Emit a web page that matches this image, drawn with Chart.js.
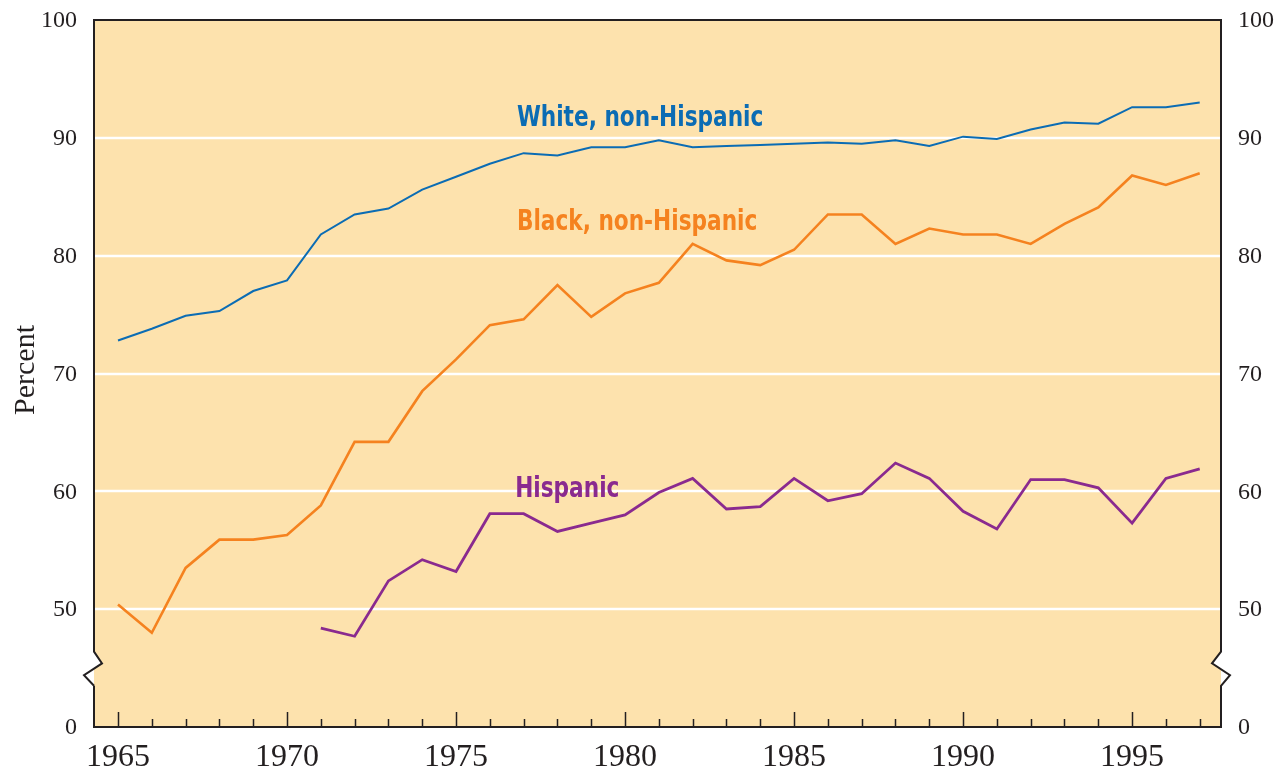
<!DOCTYPE html>
<html>
<head>
<meta charset="utf-8">
<title>Percent by group, 1965-1997</title>
<script src="https://cdn.jsdelivr.net/npm/chart.js@4"></script>
<style>
    body { margin: 0; background: #ffffff; }
    #wrap { width: 1276px; height: 774px; }
</style>
</head>
<body>
<div id="wrap"><canvas id="percentChart" width="1276" height="774"></canvas></div>
<script>
// Data
const years = [1965, 1966, 1967, 1968, 1969, 1970, 1971, 1972, 1973, 1974, 1975,
    1976, 1977, 1978, 1979, 1980, 1981, 1982, 1983, 1984, 1985, 1986,
    1987, 1988, 1989, 1990, 1991, 1992, 1993, 1994, 1995, 1996, 1997];

const whiteNonHispanic = [72.8, 73.8, 74.9, 75.3, 77.0, 77.9, 81.8, 83.5, 84.0, 85.6, 86.7,
    87.8, 88.7, 88.5, 89.2, 89.2, 89.8, 89.2, 89.3, 89.4, 89.5, 89.6,
    89.5, 89.8, 89.3, 90.1, 89.9, 90.7, 91.3, 91.2, 92.6, 92.6, 93.0];

const blackNonHispanic = [50.4, 48.0, 53.5, 55.9, 55.9, 56.3, 58.8, 64.2, 64.2, 68.5, 71.2,
    74.1, 74.6, 77.5, 74.8, 76.8, 77.7, 81.0, 79.6, 79.2, 80.5, 83.5,
    83.5, 81.0, 82.3, 81.8, 81.8, 81.0, 82.7, 84.1, 86.8, 86.0, 87.0];

const hispanic = [null, null, null, null, null, null, 48.4, 47.7, 52.4, 54.2, 53.2,
    58.1, 58.1, 56.6, 57.3, 58.0, 59.9, 61.1, 58.5, 58.7, 61.1, 59.2,
    59.8, 62.4, 61.1, 58.3, 56.8, 61.0, 61.0, 60.3, 57.3, 61.1, 61.9];

// y axis is broken: the bottom of the scale (40) is labelled "0"
const yTicks = [40, 50, 60, 70, 80, 90, 100];
const yTickLabels = ["0", "50", "60", "70", "80", "90", "100"];
const xLabelYears = [1965, 1970, 1975, 1980, 1985, 1990, 1995];

const seriesLabels = [
    { text: "White, non-Hispanic", x: 1976.8, y: 91.0, color: "#0b6cb4" },
    { text: "Black, non-Hispanic", x: 1976.8, y: 82.2, color: "#f5821f" },
    { text: "Hispanic", x: 1976.75, y: 59.5, color: "#8a2a8f" }
];

const serif = "'Liberation Serif', 'Times New Roman', serif";
const narrowBold = "bold 29px 'Liberation Sans Narrow', 'DejaVu Sans Condensed', 'Arial Narrow', sans-serif";

function toPoints(values) {
    return years.map((yr, i) => ({ x: yr, y: values[i] }));
}

// Background, gridlines, frame, ticks, labels drawn from the chart's scales
const framePlugin = {
    id: "frame",
    beforeDatasetsDraw(chart) {
        const { ctx, chartArea: a, scales: { y } } = chart;
        ctx.save();
        ctx.fillStyle = "#fde2ad";
        ctx.fillRect(a.left, a.top, a.right - a.left, a.bottom - a.top);
        ctx.strokeStyle = "#ffffff";
        ctx.lineWidth = 2.5;
        yTicks.forEach(v => {
            if (v === 40 || v === 100) return;
            const py = Math.round(y.getPixelForValue(v));
            ctx.beginPath();
            ctx.moveTo(a.left, py);
            ctx.lineTo(a.right, py);
            ctx.stroke();
        });
        ctx.restore();
    },
    afterDatasetsDraw(chart) {
        const { ctx, chartArea: a, scales: { x, y } } = chart;
        ctx.save();

        // frame with break marks on both side axes
        const b0 = y.getPixelForValue(46.4);
        const b1 = y.getPixelForValue(45.4);
        const b2 = y.getPixelForValue(44.4);
        const b3 = y.getPixelForValue(43.5);
        ctx.fillStyle = "#ffffff";
        [[a.left, 1], [a.right, -1]].forEach(([ax, dir]) => {
            ctx.beginPath();
            ctx.moveTo(ax, b0);
            ctx.lineTo(ax + 8 * dir, b1);
            ctx.lineTo(ax - 10 * dir, b2);
            ctx.lineTo(ax, b3);
            ctx.closePath();
            ctx.fill();
        });

        ctx.strokeStyle = "#231f20";
        ctx.lineWidth = 2;
        ctx.lineJoin = "miter";
        ctx.beginPath();
        ctx.moveTo(a.left, b3);
        ctx.lineTo(a.left, a.bottom);
        ctx.lineTo(a.right, a.bottom);
        ctx.lineTo(a.right, b3);
        ctx.lineTo(a.right + 9, b2);
        ctx.lineTo(a.right - 9, b1);
        ctx.lineTo(a.right, b0);
        ctx.lineTo(a.right, a.top);
        ctx.lineTo(a.left, a.top);
        ctx.lineTo(a.left, b0);
        ctx.lineTo(a.left + 8, b1);
        ctx.lineTo(a.left - 10, b2);
        ctx.lineTo(a.left, b3);
        ctx.stroke();

        // inward x ticks: every year, longer every five years
        ctx.lineWidth = 1.5;
        years.forEach(yr => {
            const px = Math.round(x.getPixelForValue(yr)) + 0.5;
            const len = yr % 5 === 0 ? 15 : 8;
            ctx.beginPath();
            ctx.moveTo(px, a.bottom);
            ctx.lineTo(px, a.bottom - len);
            ctx.stroke();
        });

        // tick labels
        ctx.fillStyle = "#231f20";
        ctx.textBaseline = "middle";
        ctx.font = "24px " + serif;
        yTicks.forEach((v, i) => {
            const py = y.getPixelForValue(v) + 1;
            ctx.textAlign = "right";
            ctx.fillText(yTickLabels[i], a.left - 17, py);
            ctx.textAlign = "left";
            ctx.fillText(yTickLabels[i], a.right + 17, py);
        });
        ctx.font = "32px " + serif;
        ctx.textAlign = "center";
        xLabelYears.forEach(yr => {
            ctx.fillText(String(yr), x.getPixelForValue(yr), a.bottom + 31);
        });

        // axis title
        ctx.save();
        ctx.translate(26, 370);
        ctx.rotate(-Math.PI / 2);
        ctx.font = "30px " + serif;
        ctx.fillText("Percent", 0, 0);
        ctx.restore();

        // series labels, squeezed horizontally to look condensed
        ctx.font = narrowBold;
        ctx.textAlign = "left";
        ctx.textBaseline = "alphabetic";
        seriesLabels.forEach(l => {
            ctx.save();
            ctx.translate(x.getPixelForValue(l.x), y.getPixelForValue(l.y));
            ctx.scale(0.83, 1);
            ctx.fillStyle = l.color;
            ctx.fillText(l.text, 0, 0);
            ctx.restore();
        });
        ctx.restore();
    }
};

document.addEventListener("DOMContentLoaded", function () {
    const ctx = document.getElementById("percentChart").getContext("2d");

    new Chart(ctx, {
        type: "line",
        data: {
            datasets: [
                {
                    label: "White, non-Hispanic",
                    data: toPoints(whiteNonHispanic),
                    borderColor: "#0b6cb4",
                    borderWidth: 2
                },
                {
                    label: "Black, non-Hispanic",
                    data: toPoints(blackNonHispanic),
                    borderColor: "#f5821f",
                    borderWidth: 2.6
                },
                {
                    label: "Hispanic",
                    data: toPoints(hispanic),
                    borderColor: "#8a2a8f",
                    borderWidth: 2.8
                }
            ]
        },
        options: {
            responsive: false,
            animation: false,
            spanGaps: false,
            layout: { padding: { left: 94, right: 55, top: 20, bottom: 47 } },
            elements: {
                point: { radius: 0 },
                line: { tension: 0, borderJoinStyle: "miter", fill: false }
            },
            scales: {
                x: { type: "linear", min: 1964.29, max: 1997.63, display: false },
                y: { type: "linear", min: 40, max: 100, display: false }
            },
            plugins: {
                legend: { display: false },
                tooltip: { enabled: false }
            }
        },
        plugins: [framePlugin]
    });
});
</script>
</body>
</html>
